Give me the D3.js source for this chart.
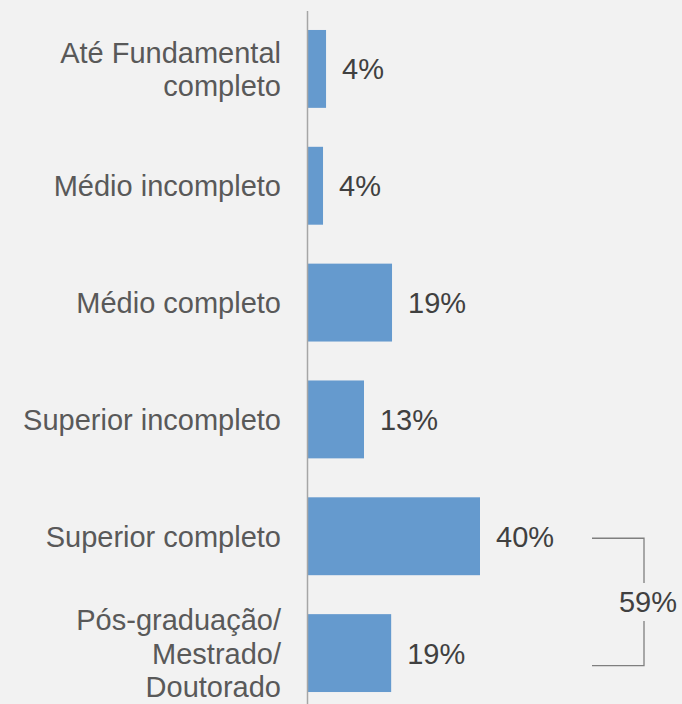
<!DOCTYPE html>
<html>
<head>
<meta charset="utf-8">
<script src="https://cdn.jsdelivr.net/npm/d3@7"></script>
<style>
  html, body { margin: 0; padding: 0; background: #f2f2f2; }
  svg { display: block; font-family: "Liberation Sans", Arial, sans-serif; }
</style>
</head>
<body>
<div id="chart"></div>
<script>
const WIDTH = 682;
const HEIGHT = 704;

// escolaridade (categorias, de cima para baixo)
const categorias = [
    ["Até Fundamental", "completo"],
    ["Médio incompleto"],
    ["Médio completo"],
    ["Superior incompleto"],
    ["Superior completo"],
    ["Pós-graduação/", "Mestrado/", "Doutorado"]
];
const valores = [4.3, 3.6, 19.6, 13.1, 40.0, 19.4];
const rotulos = ["4%", "4%", "19%", "13%", "40%", "19%"];
const totalLabel = "59%";

function setup(){
    let svg = d3.select("#chart")
        .append("svg")
        .attr("width", WIDTH)
        .attr("height", HEIGHT);

    svg.append("rect")
        .attr("width", WIDTH)
        .attr("height", HEIGHT)
        .attr("fill", "#f2f2f2");

    let ids = categorias.map((d, i) => i);

    let x = d3.scaleLinear()
        .domain([0, 40])
        .range([307.5, 480]);
    let y = d3.scaleBand()
        .domain(ids)
        .range([10.5, 711.5])
        .paddingInner(1/3)
        .paddingOuter(1/6);

    // barras
    svg.selectAll(".bar")
        .data(valores)
        .enter()
        .append("rect")
        .attr("class", "bar")
        .attr("x", x(0))
        .attr("y", (d, i) => y(i))
        .attr("width", d => x(d) - x(0))
        .attr("height", y.bandwidth())
        .attr("fill", "#659ace");

    // eixo vertical
    let yAxis = d3.axisLeft(y).tickSize(0).tickFormat("");
    let gAxis = svg.append("g")
        .attr("transform", `translate(${x(0)},0)`)
        .call(yAxis);
    gAxis.select(".domain")
        .attr("d", `M0,11V${HEIGHT}`)
        .attr("stroke", "#a6a6a6")
        .attr("stroke-width", 1.5);

    // rotulos das categorias
    const lineH = 33.5;
    svg.selectAll(".cat")
        .data(categorias)
        .enter()
        .append("text")
        .attr("class", "cat")
        .attr("text-anchor", "end")
        .attr("font-size", 29)
        .attr("fill", "#595959")
        .each(function(linhas, i){
            let cy = y(i) + y.bandwidth() / 2;
            let first = cy + 10.5 - (linhas.length - 1) * lineH / 2;
            d3.select(this).selectAll("tspan")
                .data(linhas)
                .enter()
                .append("tspan")
                .attr("x", 281)
                .attr("y", (l, k) => first + k * lineH)
                .text(l => l);
        });

    // rotulos dos valores
    svg.selectAll(".val")
        .data(valores)
        .enter()
        .append("text")
        .attr("class", "val")
        .attr("x", d => x(d) + 16)
        .attr("y", (d, i) => y(i) + y.bandwidth() / 2 + 10.5)
        .attr("font-size", 29)
        .attr("fill", "#404040")
        .text((d, i) => rotulos[i]);

    // colchete do total (superior completo + pos)
    let y1 = y(4) + y.bandwidth() / 2 + 2;
    let y2 = y(5) + y.bandwidth() / 2 + 12.5;
    let bx0 = x(40) + 112;
    let bx1 = bx0 + 52;
    let ym = (y1 + y2) / 2;
    let bracket = svg.append("g")
        .attr("fill", "none")
        .attr("stroke", "#7f7f7f")
        .attr("stroke-width", 1.3);
    bracket.append("path")
        .attr("d", `M${bx0},${y1}H${bx1}V${ym - 19}`);
    bracket.append("path")
        .attr("d", `M${bx0},${y2}H${bx1}V${ym + 19}`);
    svg.append("text")
        .attr("x", bx1 + 4)
        .attr("y", ym + 10.5)
        .attr("text-anchor", "middle")
        .attr("font-size", 29)
        .attr("fill", "#404040")
        .text(totalLabel);
}

window.addEventListener("load", setup);
</script>
</body>
</html>
